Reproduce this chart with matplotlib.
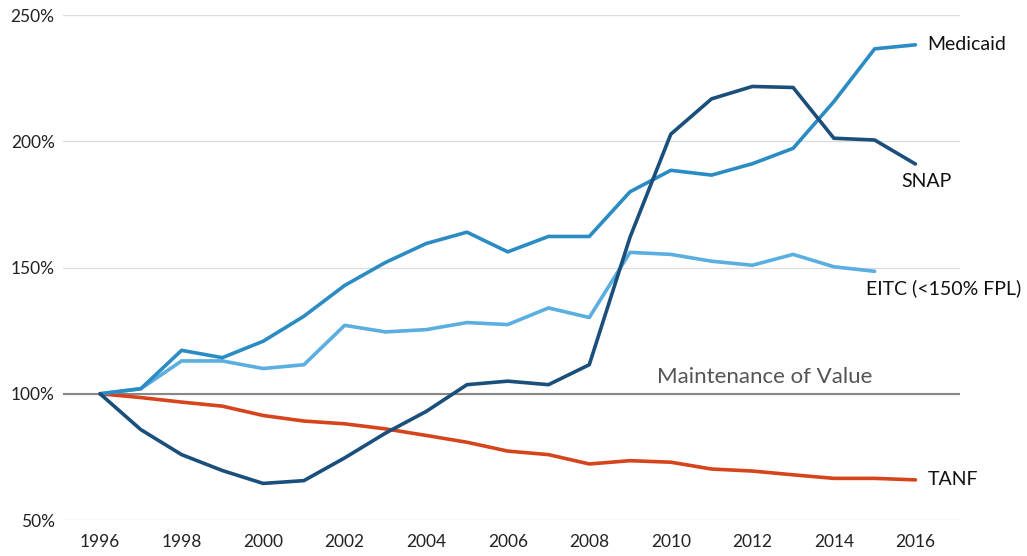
import matplotlib.pyplot as plt
import numpy as np

plt.rcParams['font.family'] = ['Lato', 'DejaVu Sans']

years = list(range(1996, 2017))
medicaid = [100, 102, 117.2, 114.3, 120.8, 130.7, 142.9, 152, 159.5, 164, 156.2, 162.3, 162.3,
            180, 188.5, 186.6, 191.1, 197.2, 215.7, 236.6, 238.2]
snap = [100, 85.8, 75.9, 69.6, 64.5, 65.6, 74.6, 84.4, 93, 103.6, 105, 103.6, 111.5,
        162, 202.8, 216.8, 221.7, 221.3, 201.2, 200.5, 191]
eitc_years = list(range(1996, 2016))
eitc = [100, 102, 113, 113, 110, 111.5, 127.1, 124.5, 125.4, 128.2, 127.4, 134, 130.2,
        156, 155.2, 152.5, 150.9, 155.2, 150.3, 148.5]
tanf = [100, 98.5, 96.7, 95.1, 91.4, 89.2, 88.1, 86.1, 83.5, 80.8, 77.3, 75.9, 72.2,
        73.5, 72.9, 70.2, 69.4, 67.9, 66.5, 66.5, 65.9]

fig = plt.figure(figsize=(10.27, 5.56), dpi=100)
ax = fig.add_axes([0.0613, 0.0647, 0.8737, 0.9083])

ax.set_ylim(50, 250)
ax.set_xlim(1995.09, 2017.1)
ax.set_yticks([50, 100, 150, 200, 250])
ax.set_yticklabels(['50%', '100%', '150%', '200%', '250%'])
ax.set_xticks(range(1996, 2017, 2))
ax.grid(axis='y', color='#dddddd', linewidth=1)
ax.set_axisbelow(True)
for s in ax.spines.values():
    s.set_visible(False)
ax.tick_params(length=0, labelsize=12.5, colors='#222222')
ax.tick_params(axis='x', pad=10)
ax.tick_params(axis='y', pad=6)

ax.axhline(100, color='#888888', linewidth=1.5, zorder=1)
ax.text(2012.3, 102.5, 'Maintenance of Value', color='#555555', fontsize=16,
        ha='center', va='bottom')

lw = 2.6
ax.plot(years, tanf, color='#d5441c', lw=lw, solid_capstyle='round')
ax.plot(eitc_years, eitc, color='#5aaee0', lw=lw, solid_capstyle='round')
ax.plot(years, medicaid, color='#2b8cc4', lw=lw, solid_capstyle='round')
ax.plot(years, snap, color='#1a4f7c', lw=lw, solid_capstyle='round')

ax.text(2016.3, medicaid[-1], 'Medicaid', fontsize=14, va='center', color='#111111')
ax.text(2015.65, 184, 'SNAP', fontsize=14, va='center', color='#111111')
ax.text(2014.8, 142, 'EITC (<150% FPL)', fontsize=14, va='center', color='#111111')
ax.text(2016.3, tanf[-1], 'TANF', fontsize=14, va='center', color='#111111')

fig.savefig('out.png', dpi=100)
